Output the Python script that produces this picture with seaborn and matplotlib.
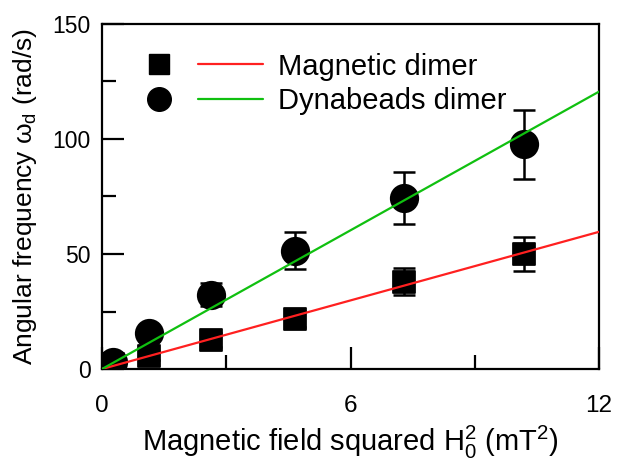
import numpy as np
import pandas as pd
import matplotlib
matplotlib.use("Agg")
import matplotlib.pyplot as plt
import seaborn as sns
from matplotlib.ticker import MultipleLocator
from matplotlib.lines import Line2D

# Data
h2 = [0.27, 1.14, 2.62, 4.66, 7.28, 10.19]
mag_y = [2.2, 5.7, 12.6, 21.9, 38.0, 50.0]
mag_err = [1.5, 2.0, 3.0, 3.5, 6.0, 7.6]
dyn_y = [3.2, 15.5, 32.2, 51.4, 74.5, 97.8]
dyn_err = [2.0, 2.5, 5.0, 8.0, 11.3, 15.0]
fit_x = [0, 12]
mag_slope = 4.97
dyn_slope = 10.05
labels = ["Magnetic dimer", "Dynabeads dimer"]

RED = '#ff2020'
GREEN = '#10c010'

sns.set_theme(style="white")
plt.rcParams['font.family'] = ['Liberation Sans', 'DejaVu Sans']
plt.rcParams['mathtext.fontset'] = 'custom'
plt.rcParams['mathtext.rm'] = 'Liberation Sans'
plt.rcParams['mathtext.it'] = 'Liberation Sans'
plt.rcParams['text.color'] = 'black'
plt.rcParams['axes.labelcolor'] = 'black'
plt.rcParams['xtick.color'] = 'black'
plt.rcParams['ytick.color'] = 'black'

fig = plt.figure(figsize=(6.22, 4.62), dpi=100)
ax = fig.add_axes([102/622, 1-369/462, (599-102)/622, (369-24)/462])

df_mag = pd.DataFrame({"x": h2, "y": mag_y})
df_dyn = pd.DataFrame({"x": h2, "y": dyn_y})
fit_mag = pd.DataFrame({"x": fit_x, "y": [mag_slope * v for v in fit_x]})
fit_dyn = pd.DataFrame({"x": fit_x, "y": [dyn_slope * v for v in fit_x]})

ax.errorbar(h2, mag_y, yerr=mag_err, fmt='none', ecolor='black', elinewidth=1.8, capsize=8, capthick=1.8, zorder=2)
ax.errorbar(h2, dyn_y, yerr=dyn_err, fmt='none', ecolor='black', elinewidth=1.8, capsize=8, capthick=1.8, zorder=2)
sns.scatterplot(data=df_mag, x="x", y="y", marker='s', s=250, color='black', edgecolor='black', ax=ax, zorder=3)
sns.scatterplot(data=df_dyn, x="x", y="y", marker='o', s=380, color='black', edgecolor='black', ax=ax, zorder=3)
sns.lineplot(data=fit_mag, x="x", y="y", color=RED, lw=1.6, ax=ax, zorder=4)
sns.lineplot(data=fit_dyn, x="x", y="y", color=GREEN, lw=1.6, ax=ax, zorder=4)

ax.set_xlim(0, 12)
ax.set_ylim(0, 150)
ax.xaxis.set_major_locator(MultipleLocator(6))
ax.xaxis.set_minor_locator(MultipleLocator(3))
ax.yaxis.set_major_locator(MultipleLocator(50))
ax.yaxis.set_minor_locator(MultipleLocator(25))
ax.tick_params(which='both', direction='in', bottom=True, left=True, top=False, right=False,
               width=1.6, color='black', labelcolor='black')
ax.tick_params(axis='x', which='major', labelsize=17.5, pad=19)
ax.tick_params(axis='y', which='major', labelsize=16.5, pad=8)
ax.tick_params(which='major', length=16)
ax.tick_params(which='minor', length=10)
for s in ax.spines.values():
    s.set_color('black')
    s.set_linewidth(1.6)

ax.set_xlabel(r"Magnetic field squared H$_0^2$ (mT$^2$)", fontsize=21, labelpad=4.5)
ax.set_ylabel(r"Angular frequency $\omega_d$ (rad/s)", fontsize=19, labelpad=10)

# legend: markers column + line/label column
fs = 21
handles = [Line2D([], [], marker='s', color='black', ls='none', markersize=15),
           Line2D([], [], marker='o', color='black', ls='none', markersize=17),
           Line2D([], [], color=RED, lw=1.6),
           Line2D([], [], color=GREEN, lw=1.6)]
leg = ax.legend(handles, ["", ""] + labels, ncol=2, loc='upper left',
                bbox_to_anchor=(0.025, 0.951), frameon=False, fontsize=fs,
                handlelength=2.25, handletextpad=0.5, columnspacing=-0.3,
                labelspacing=0.22, borderaxespad=0)

fig.savefig("out.png", dpi=100)
